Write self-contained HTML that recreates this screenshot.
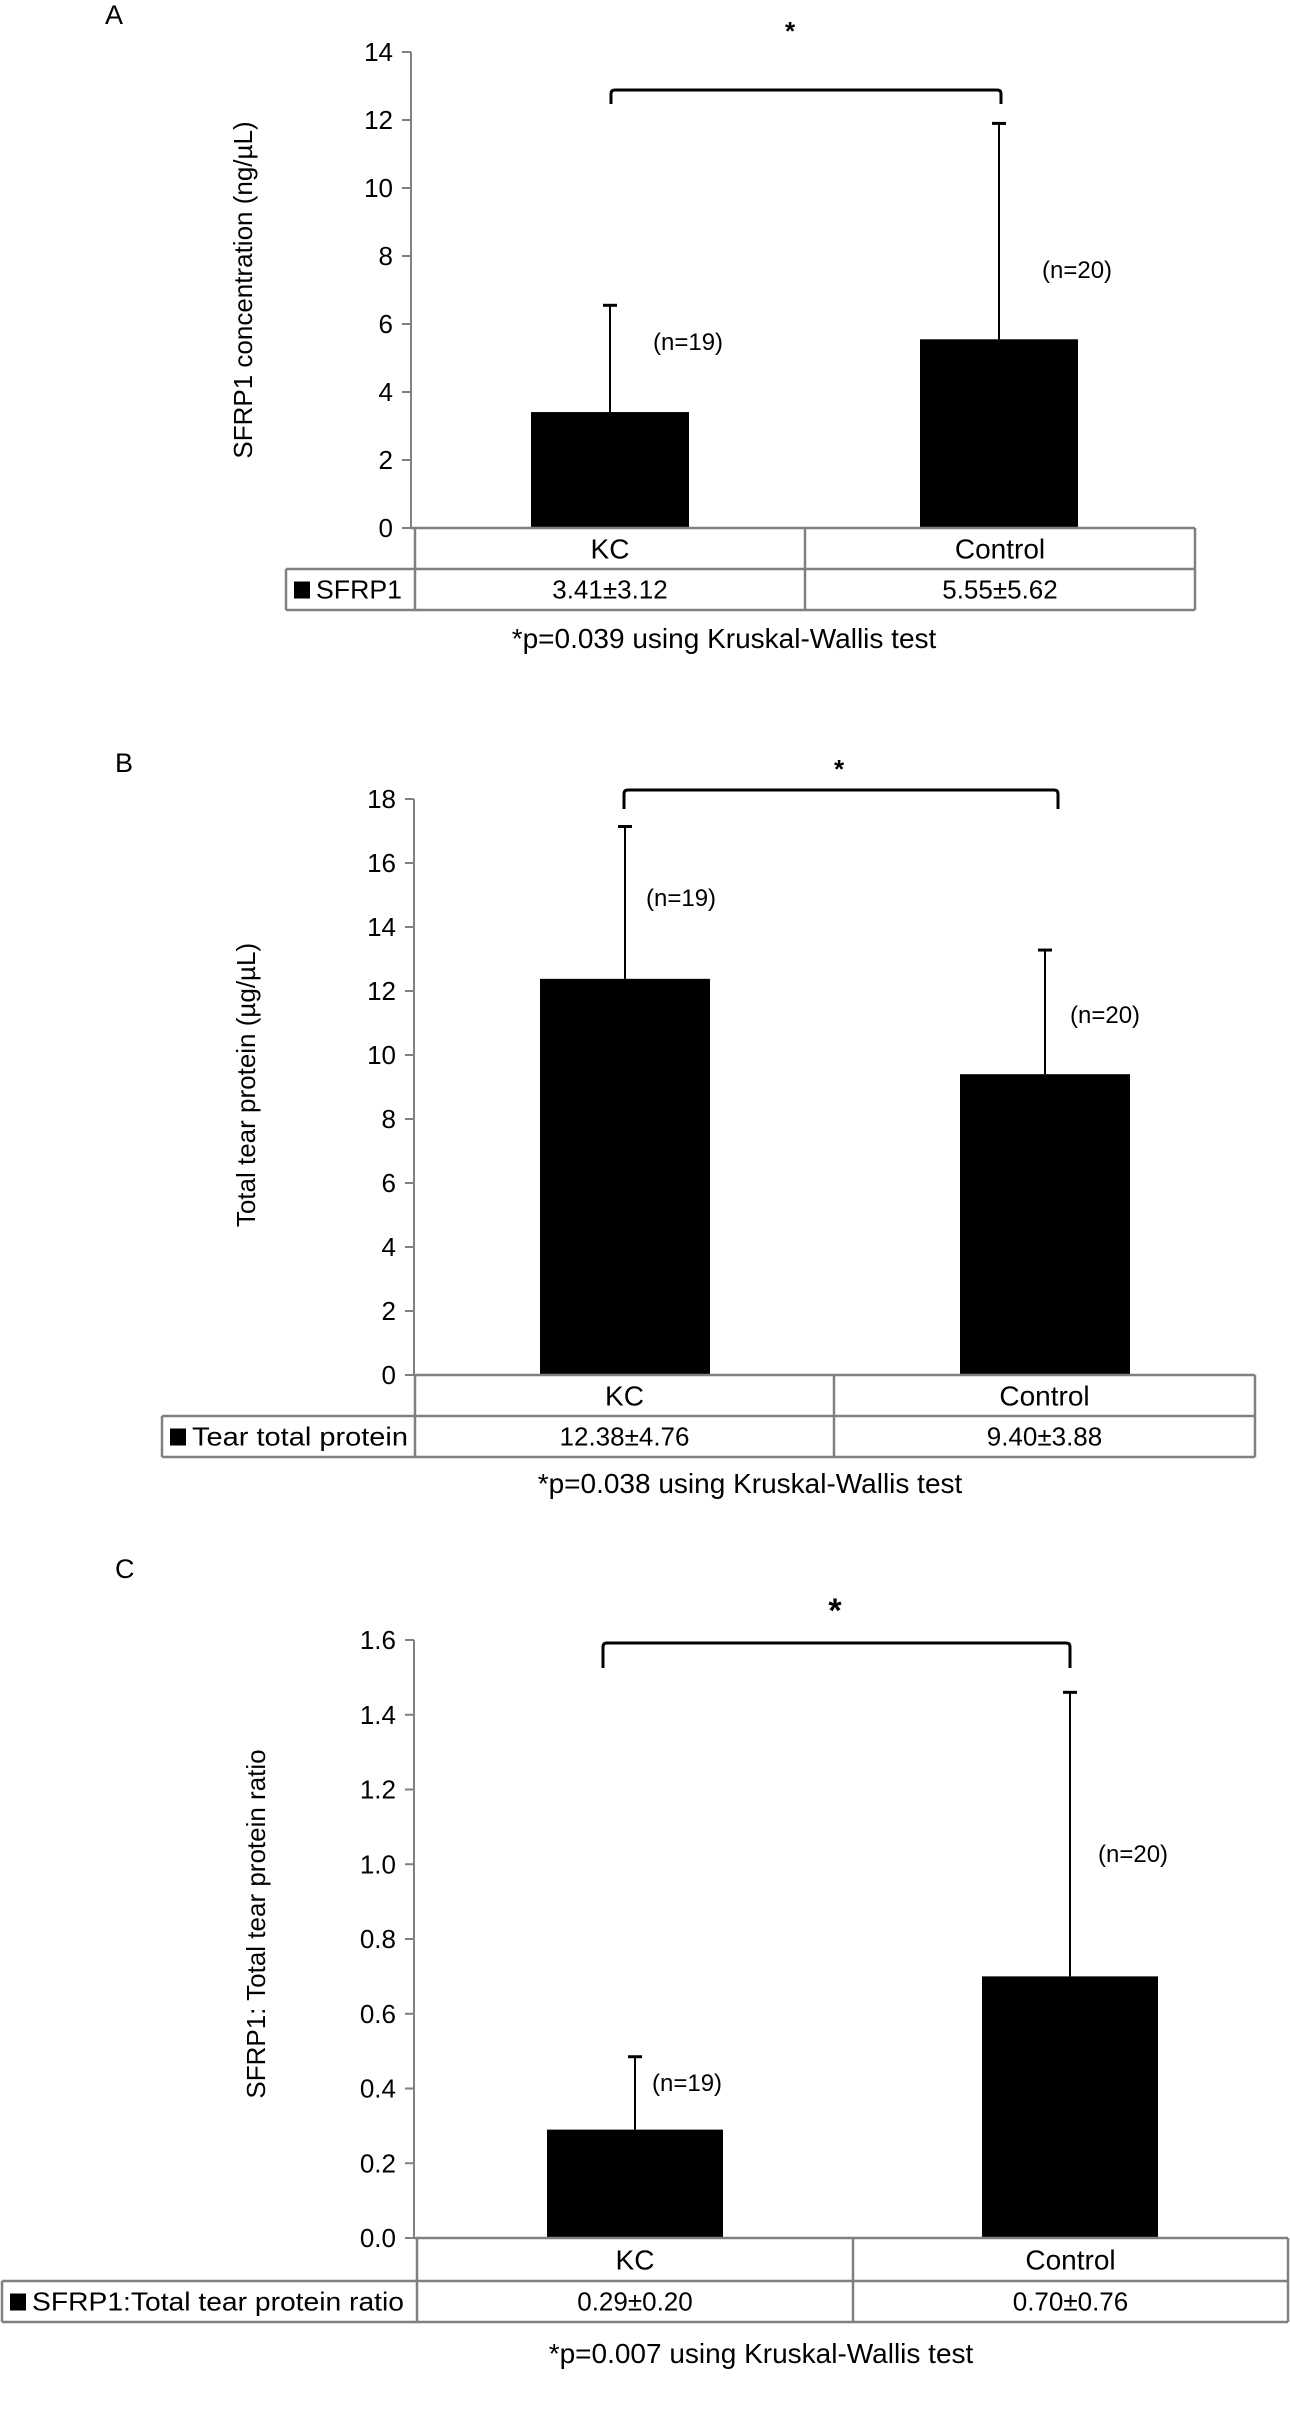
<!DOCTYPE html>
<html><head><meta charset="utf-8"><style>
html,body{margin:0;padding:0;background:#fff;}
svg{display:block;font-family:"Liberation Sans",Arial,sans-serif;}
</style></head><body>
<svg id="fig" width="1290" height="2412" viewBox="0 0 1290 2412" xmlns="http://www.w3.org/2000/svg"></svg>
<script>
const categories = ["KC", "Control"];
const nLabels = ["(n=19)", "(n=20)"];
const meansA = [3.41, 5.55];
const errsA = [3.14, 6.35];
const meansB = [12.38, 9.40];
const errsB = [4.76, 3.88];
const meansC = [0.29, 0.70];
const errsC = [0.195, 0.76];
const ticksA = [0, 2, 4, 6, 8, 10, 12, 14];
const ticksB = [0, 2, 4, 6, 8, 10, 12, 14, 16, 18];
const ticksC = [0, 0.2, 0.4, 0.6, 0.8, 1.0, 1.2, 1.4, 1.6];
const tableA = ["3.41±3.12", "5.55±5.62"];
const tableB = ["12.38±4.76", "9.40±3.88"];
const tableC = ["0.29±0.20", "0.70±0.76"];

const NS = "http://www.w3.org/2000/svg";
const svg = document.getElementById("fig");
function mk(tag, attrs, parent, text) {
  const e = document.createElementNS(NS, tag);
  for (const k in attrs) e.setAttribute(k, attrs[k]);
  if (text !== undefined) e.textContent = text;
  (parent || svg).appendChild(e);
  return e;
}

const panels = [
  {id:"a", letter:"A", lx:105, ly:24, axisX:411, y0:528, yTop:52, max:14, ticks:ticksA, dec:0,
   means:meansA, errs:errsA, table:tableA, barW:158, xCenters:[610,999],
   title:"SFRP1 concentration (ng/µL)", tx:252, ty:290,
   bracket:{x1:611, x2:1001, y:90, leg:104, sx:790, sy:40, fs:26},
   nPos:[[653,350],[1042,278]],
   tab:{left:286, right:1195, div:[415,805], r1:569, r2:610},
   legend:"SFRP1", legendLen:86, foot:"*p=0.039 using Kruskal-Wallis test", fx:724, fy:648},
  {id:"b", letter:"B", lx:115, ly:772, axisX:414, y0:1375, yTop:799, max:18, ticks:ticksB, dec:0,
   means:meansB, errs:errsB, table:tableB, barW:170, xCenters:[625,1045],
   title:"Total tear protein (µg/µL)", tx:255, ty:1085,
   bracket:{x1:624, x2:1058, y:790, leg:809, sx:839, sy:778, fs:26},
   nPos:[[646,906],[1070,1023]],
   tab:{left:162, right:1255, div:[415,834], r1:1416, r2:1457},
   legend:"Tear total protein", legendLen:216, foot:"*p=0.038 using Kruskal-Wallis test", fx:750, fy:1493},
  {id:"c", letter:"C", lx:115, ly:1578, axisX:414, y0:2238, yTop:1640, max:1.6, ticks:ticksC, dec:1,
   means:meansC, errs:errsC, table:tableC, barW:176, xCenters:[635,1070],
   title:"SFRP1: Total tear protein ratio", tx:265, ty:1924,
   bracket:{x1:603, x2:1070, y:1643, leg:1668, sx:835, sy:1622, fs:34},
   nPos:[[652,2091],[1098,1862]],
   tab:{left:2, right:1288, div:[417,853], r1:2281, r2:2322},
   legend:"SFRP1:Total tear protein ratio", legendLen:372, foot:"*p=0.007 using Kruskal-Wallis test", fx:761, fy:2363}
];

panels.forEach(p => {
  const g = mk("g", {});
  
  
  const yScale = v => p.y0 - (v / p.max) * (p.y0 - p.yTop);

  const lt = mk("text", {x:p.lx, y:p.ly, "font-size":27, fill:"#000"}, g, p.letter);
  
  

  const ax = mk("line", {x1:p.axisX, y1:p.yTop, x2:p.axisX, y2:p.y0, stroke:"#808080", "stroke-width":2}, g);
  
  
  p.ticks.forEach(t => {
    const y = yScale(t);
    const tk = mk("line", {x1:p.axisX - 9, y1:y, x2:p.axisX, y2:y, stroke:"#808080", "stroke-width":2}, g);
    
    
    const tl = mk("text", {x:p.axisX - 18, y:y + 9, "font-size":26, "text-anchor":"end", fill:"#000"}, g, t.toFixed(p.dec));
    
    
  });
  const yt = mk("text", {x:0, y:0, "font-size":26, "text-anchor":"middle", fill:"#000",
    transform:`translate(${p.tx},${p.ty}) rotate(-90)`}, g, p.title);
  
  

  categories.forEach((c, i) => {
    const cx = p.xCenters[i];
    const top = yScale(p.means[i]);
    const etop = yScale(p.means[i] + p.errs[i]);
    const el = mk("line", {x1:cx, y1:etop, x2:cx, y2:top, stroke:"#000", "stroke-width":2}, g);
    
    
    const ec = mk("line", {x1:cx - 7, y1:etop, x2:cx + 7, y2:etop, stroke:"#000", "stroke-width":3}, g);
    
    
    const b = mk("rect", {x:cx - p.barW / 2, y:top, width:p.barW, height:p.y0 - top, fill:"#000"}, g);
    
    
    const nl = mk("text", {x:p.nPos[i][0], y:p.nPos[i][1], "font-size":24, fill:"#000"}, g, nLabels[i]);
    
    
  });

  const B = p.bracket;
  const br = mk("path", {d:`M${B.x1},${B.leg} L${B.x1},${B.y + 4} Q${B.x1},${B.y} ${B.x1 + 4},${B.y} L${B.x2 - 4},${B.y} Q${B.x2},${B.y} ${B.x2},${B.y + 4} L${B.x2},${B.leg}`,
    fill:"none", stroke:"#000", "stroke-width":3}, g);
  
  
  const st = mk("text", {x:B.sx, y:B.sy, "font-size":B.fs, "font-weight":"bold", "text-anchor":"middle", fill:"#000"}, g, "*");
  
  

  const T = p.tab;
  const tg = mk("g", {stroke:"#808080", "stroke-width":2.5, fill:"none"}, g);
  
  
  mk("line", {x1:p.axisX, y1:p.y0, x2:T.right, y2:p.y0}, tg);
  mk("line", {x1:T.left, y1:T.r1, x2:T.right, y2:T.r1}, tg);
  mk("line", {x1:T.left, y1:T.r2, x2:T.right, y2:T.r2}, tg);
  mk("line", {x1:T.left, y1:T.r1, x2:T.left, y2:T.r2}, tg);
  mk("line", {x1:T.right, y1:p.y0, x2:T.right, y2:T.r2}, tg);
  mk("line", {x1:T.div[0], y1:p.y0, x2:T.div[0], y2:T.r2}, tg);
  mk("line", {x1:T.div[1], y1:p.y0, x2:T.div[1], y2:T.r2}, tg);
  const colC = [(T.div[0] + T.div[1]) / 2, (T.div[1] + T.right) / 2];
  categories.forEach((c, i) => {
    const h = mk("text", {x:colC[i], y:(p.y0 + T.r1) / 2 + 10, "font-size":28, "text-anchor":"middle", fill:"#000"}, g, c);
    
    
    const v = mk("text", {x:colC[i], y:(T.r1 + T.r2) / 2 + 9, "font-size":26, "text-anchor":"middle", fill:"#000"}, g, p.table[i]);
    
    
  });
  const sq = mk("rect", {x:T.left + 8, y:(T.r1 + T.r2) / 2 - 8, width:16, height:17, fill:"#000"}, g);
  
  
  const lg = mk("text", {x:T.left + 30, y:(T.r1 + T.r2) / 2 + 9, "font-size":26, fill:"#000",
    textLength:p.legendLen, lengthAdjust:"spacingAndGlyphs"}, g, p.legend);
  
  

  const ft = mk("text", {x:p.fx, y:p.fy, "font-size":28, "text-anchor":"middle", fill:"#000"}, g, p.foot);
  
  
});
</script>
</body></html>
